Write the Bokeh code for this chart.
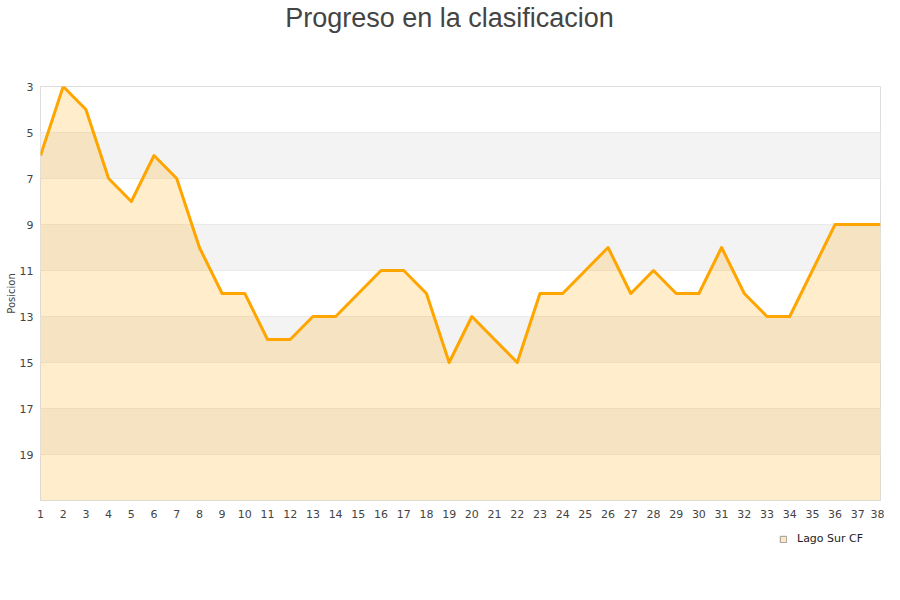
from bokeh.plotting import figure
from bokeh.layouts import column
from bokeh.models import Range1d, FixedTicker, BoxAnnotation, Legend, LegendItem, Label
from bokeh.embed import file_html
from bokeh.resources import INLINE

jornadas = list(range(1, 39))
posicion = [6, 3, 4, 7, 8, 6, 7, 10, 12, 12, 14, 14, 13, 13, 12, 11, 11, 12, 15, 13,
            14, 15, 12, 12, 11, 10, 12, 11, 12, 12, 10, 12, 13, 13, 11, 9, 9, 9]
y_ticks = [3, 5, 7, 9, 11, 13, 15, 17, 19]
band_starts = [5, 9, 13, 17]
team = "Lago Sur CF"
title = "Progreso en la clasificacion"
y_min, y_max = 3, 21

W = 884

# title strip (pixel-like ranges so the frame maps 1:1 to the page)
p0 = figure(width=W, height=78, output_backend="svg", toolbar_location=None,
            x_range=Range1d(40, 880), y_range=Range1d(78, 0),
            min_border_left=40, min_border_right=4, min_border_top=0, min_border_bottom=0)
p0.axis.visible = False
p0.grid.grid_line_color = None
p0.outline_line_color = None
p0.add_layout(Label(x=449, y=17, text=title, text_align="center", text_baseline="alphabetic",
                    text_font="Liberation Sans", text_font_size="27px", text_color="#444444"))

p = figure(width=W, height=452, output_backend="svg", toolbar_location=None,
           x_range=Range1d(1, 38), y_range=Range1d(y_max, y_min),
           min_border_left=40, min_border_right=4, min_border_top=8, min_border_bottom=30)

for b in band_starts:
    p.add_layout(BoxAnnotation(bottom=b, top=b + 2, fill_color="#f3f3f3", fill_alpha=1.0,
                               line_color=None, level="underlay"))

area = p.varea(x=jornadas, y1=posicion, y2=[y_max] * len(jornadas),
               fill_color="#ffa500", fill_alpha=0.2)
line = p.line(jornadas, posicion, line_color="#ffa500", line_width=3, line_join="round")

p.xaxis.ticker = FixedTicker(ticks=jornadas)
p.yaxis.ticker = FixedTicker(ticks=y_ticks)
for ax in (p.xaxis[0], p.yaxis[0]):
    ax.axis_line_color = None
    ax.major_tick_line_color = None
    ax.minor_tick_line_color = None
    ax.major_label_text_font = "DejaVu Sans"
    ax.major_label_text_font_size = "11px"
    ax.major_label_text_color = "#444444"
p.yaxis.axis_label = "Posicion"
p.yaxis.axis_label_text_font = "DejaVu Sans"
p.yaxis.axis_label_text_font_size = "10px"
p.yaxis.axis_label_text_font_style = "normal"
p.yaxis.axis_label_text_color = "#444444"
p.yaxis.axis_label_standoff = 0
p.yaxis.major_label_standoff = 1
p.xaxis.major_label_standoff = 3

p.xgrid.grid_line_color = None
p.ygrid.grid_line_color = "#e0e0e0"
p.ygrid.ticker = FixedTicker(ticks=y_ticks)
p.outline_line_color = "#dddddd"
p.background_fill_color = "white"

# legend strip
p2 = figure(width=W, height=54, output_backend="svg", toolbar_location=None,
            x_range=Range1d(0, 1), y_range=Range1d(0, 1),
            min_border_left=40, min_border_right=4, min_border_top=0, min_border_bottom=0)
p2.axis.visible = False
p2.grid.grid_line_color = None
p2.outline_line_color = None
swatch = p2.quad(left=[-6], right=[-5], bottom=[-6], top=[-5],
                 fill_color="#ffe8c0", line_color="#999999", line_width=1)
legend = Legend(items=[LegendItem(label=team, renderers=[swatch])], location=(739, 39),
                border_line_color=None, background_fill_alpha=0,
                label_text_font="DejaVu Sans", label_text_font_size="11px",
                label_text_color="#222222", label_height=12,
                glyph_width=8, glyph_height=8, padding=0, margin=0, label_standoff=10)
p2.add_layout(legend, "center")

open("out.html", "w").write(file_html(column(p0, p, p2, spacing=0), INLINE))
